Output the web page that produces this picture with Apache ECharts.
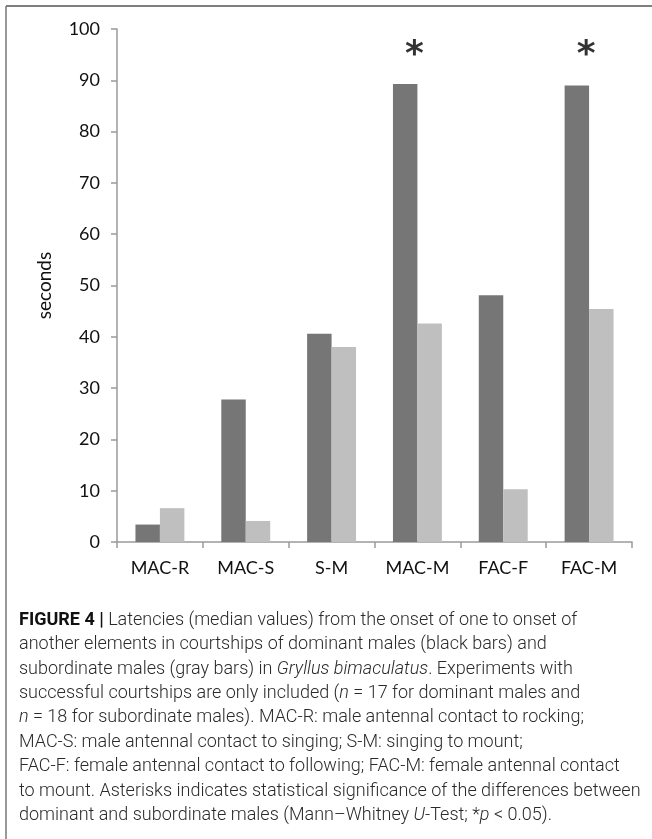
<!DOCTYPE html>
<html>
<head>
<meta charset="utf-8">
<script src="https://cdn.jsdelivr.net/npm/echarts@6/dist/echarts.min.js"></script>
<style>
  html, body { margin: 0; padding: 0; background: #ffffff; }
  #chart { width: 652px; height: 839px; }
</style>
</head>
<body>
<div id="chart"></div>
<script>
// Courtship element latencies (median, seconds)
const categories = ['MAC-R', 'MAC-S', 'S-M', 'MAC-M', 'FAC-F', 'FAC-M'];
const dominant = [3.4, 27.8, 40.6, 89.3, 48.1, 89.0];
const subordinate = [6.6, 4.1, 38.0, 42.6, 10.3, 45.4];
// Mann–Whitney significance flags (p < 0.05)
const significant = [false, false, false, true, false, true];
const yTicks = { min: 0, max: 100, step: 10 };
const yAxisTitle = 'seconds';

const starLevel = 96;

const chart = echarts.init(document.getElementById('chart'), null, { renderer: 'canvas' });

const axisFont = 'Lato, "Open Sans", sans-serif';
const captionFont = 'Roboto, "Liberation Sans", sans-serif';

chart.setOption({
  backgroundColor: '#ffffff',
  animation: false,
  grid: { left: 117, right: 20, top: 29, bottom: 297, containLabel: false },
  xAxis: {
    type: 'category',
    data: categories,
    axisLine: { lineStyle: { color: '#9a9a9a', width: 1.5 } },
    axisTick: { show: true, length: 6, alignWithLabel: false, lineStyle: { color: '#9a9a9a', width: 1.5 } },
    axisLabel: { color: '#111', fontFamily: axisFont, fontSize: 18, margin: 17 }
  },
  yAxis: {
    type: 'value',
    min: yTicks.min,
    max: yTicks.max,
    interval: yTicks.step,
    name: yAxisTitle,
    nameLocation: 'middle',
    nameGap: 63,
    nameRotate: 90,
    nameTextStyle: { color: '#111', fontFamily: axisFont, fontSize: 19 },
    axisLine: { show: true, lineStyle: { color: '#9a9a9a', width: 1.5 } },
    axisTick: { show: true, length: 6, lineStyle: { color: '#9a9a9a', width: 1.5 } },
    splitLine: { show: false },
    axisLabel: { color: '#111', fontFamily: axisFont, fontSize: 18, margin: 17 }
  },
  series: [
    {
      name: 'dominant',
      type: 'bar',
      data: dominant,
      barGap: '0%',
      barCategoryGap: '43%',
      itemStyle: { color: '#767676' }
    },
    {
      name: 'subordinate',
      type: 'bar',
      data: subordinate,
      barGap: '0%',
      barCategoryGap: '43%',
      itemStyle: { color: '#bfbfbf' }
    },
    {
      name: 'significance',
      type: 'scatter',
      symbolSize: 0,
      data: significant.map((s, i) => (s ? [i, starLevel] : [i, null])),
      label: {
        show: true,
        position: 'inside',
        formatter: '*',
        fontFamily: '"DejaVu Sans", sans-serif',
        fontWeight: 'bold',
        fontSize: 36,
        color: '#000',
        offset: [-3, 6]
      },
      silent: true
    }
  ],
  graphic: [
    // figure frame (top and left edges)
    { type: 'line', shape: { x1: 6, y1: 6, x2: 652, y2: 6 }, style: { stroke: '#555', lineWidth: 1.5 } },
    { type: 'line', shape: { x1: 6, y1: 6, x2: 6, y2: 839 }, style: { stroke: '#777', lineWidth: 1.5 } },
    {
      type: 'text',
      left: 19,
      top: 608,
      style: {
        text:
          '{b|FIGURE 4 |} Latencies (median values) from the onset of one to onset of\n' +
          'another elements in courtships of dominant males (black bars) and\n' +
          'subordinate males (gray bars) in {i|Gryllus bimaculatus}. Experiments with\n' +
          'successful courtships are only included ({i|n} = 17 for dominant males and\n' +
          '{i|n} = 18 for subordinate males). MAC-R: male antennal contact to rocking;\n' +
          'MAC-S: male antennal contact to singing; S-M: singing to mount;\n' +
          'FAC-F: female antennal contact to following; FAC-M: female antennal contact\n' +
          'to mount. Asterisks indicates statistical significance of the differences between\n' +
          'dominant and subordinate males (Mann–Whitney {i|U}-Test; *{i|p} < 0.05).',
        fontFamily: captionFont,
        fontSize: 18,
        fontWeight: 300,
        lineHeight: 24.4,
        fill: '#2a2a2a',
        rich: {
          b: { fontFamily: captionFont, fontWeight: 'bold', fontSize: 18, lineHeight: 24.4, fill: '#111' },
          i: { fontFamily: captionFont, fontStyle: 'italic', fontWeight: 300, fontSize: 18, lineHeight: 24.4, fill: '#2a2a2a' }
        }
      }
    }
  ]
});
</script>
</body>
</html>
